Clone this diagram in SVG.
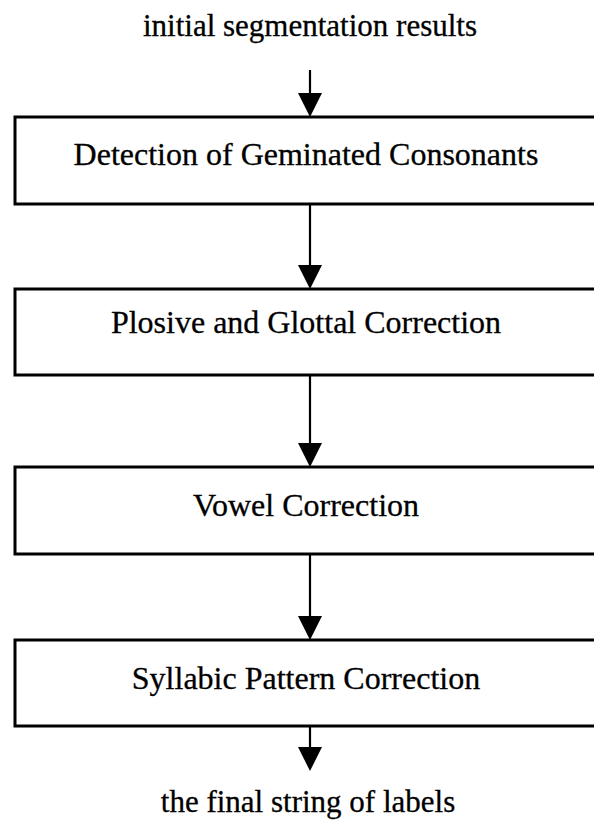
<svg xmlns="http://www.w3.org/2000/svg" width="594" height="829" viewBox="0 0 594 829">
  <style>
    .box { fill: #ffffff; stroke: #000000; stroke-width: 3; }
    .label { font-family: "Liberation Serif", "Times New Roman", serif; font-size: 32px; fill: #000000; stroke: #000000; stroke-width: 0.3; text-anchor: middle; }
    .end { font-size: 31px; }
    .link { stroke: #000000; stroke-width: 2.2; fill: none; }
    .head { fill: #000000; }
  </style>
  <rect width="594" height="829" fill="#ffffff"/>

  <g id="input">
    <text class="label end" x="310" y="36">initial segmentation results</text>
  </g>

  <g id="connectors">
    <line class="link" x1="310" y1="70" x2="310" y2="95"/>
    <polygon class="head" points="298,93 322,93 310,117"/>
    <line class="link" x1="310" y1="204" x2="310" y2="267"/>
    <polygon class="head" points="298,265 322,265 310,289"/>
    <line class="link" x1="310" y1="375" x2="310" y2="445"/>
    <polygon class="head" points="298,443 322,443 310,467"/>
    <line class="link" x1="310" y1="554" x2="310" y2="618"/>
    <polygon class="head" points="298,616 322,616 310,640"/>
    <line class="link" x1="310" y1="726" x2="310" y2="749"/>
    <polygon class="head" points="298,747 322,747 310,771"/>
  </g>

  <g id="geminated">
    <rect class="box" x="15" y="117" width="600" height="87"/>
    <text class="label" x="306" y="165">Detection of Geminated Consonants</text>
  </g>

  <g id="plosive-glottal">
    <rect class="box" x="15" y="289" width="600" height="86"/>
    <text class="label" x="306" y="333">Plosive and Glottal Correction</text>
  </g>

  <g id="vowel">
    <rect class="box" x="15" y="467" width="600" height="87"/>
    <text class="label" x="306" y="516">Vowel Correction</text>
  </g>

  <g id="syllabic">
    <rect class="box" x="15" y="640" width="600" height="86"/>
    <text class="label" x="306" y="689">Syllabic Pattern Correction</text>
  </g>

  <g id="output">
    <text class="label end" x="308" y="812">the final string of labels</text>
  </g>
</svg>
